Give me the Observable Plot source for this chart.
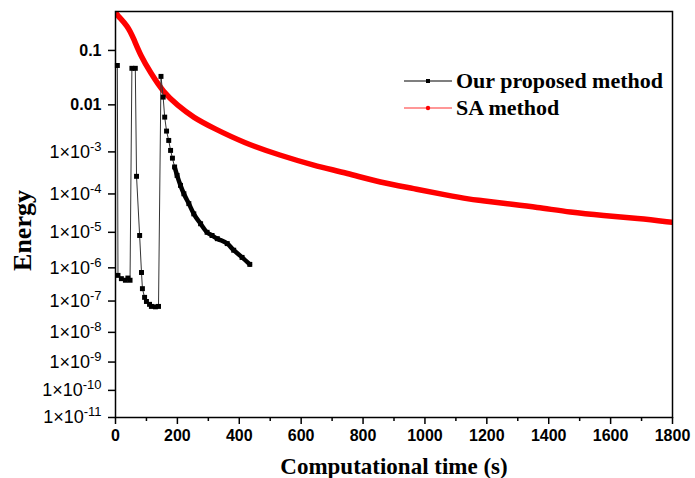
<!DOCTYPE html>
<html>
<head>
<meta charset="utf-8">
<script src="https://cdn.jsdelivr.net/npm/d3@7"></script>
<script src="https://cdn.jsdelivr.net/npm/@observablehq/plot@0.6"></script>
<style>
  html, body { margin: 0; padding: 0; background: #fff; }
  #wrap { position: relative; width: 695px; height: 478px; }
  #wrap svg { font-family: "Liberation Sans", Arial, sans-serif; }
  g[aria-label="x-axis tick label"] text { font: bold 16px "Liberation Sans", Arial, sans-serif; fill: #000; }
  g[aria-label="y-axis tick label"] text { font: 18px "Liberation Sans", Arial, sans-serif; fill: #000; }
  g[aria-label="x-axis label"] text {
    font: bold 23px "Liberation Serif", "Times New Roman", serif; fill: #000;
  }
  g[aria-label="y-axis label"] text {
    font: bold 26px "Liberation Serif", "Times New Roman", serif; fill: #000;
  }
  .legend { position: absolute; left: 403px; top: 67px; font: bold 22px "Liberation Serif", "Times New Roman", serif; color: #000; }
  .legend .item { display: flex; align-items: center; height: 27px; }
  .legend svg { margin-right: 3px; }
</style>
</head>
<body>
<div id="wrap"></div>
<script>
// ---- data ----
const seriesNames = ["Our proposed method", "SA method"];

// Our proposed method: time (s) and energy
const oursTime = [6, 8, 19, 32, 40, 47, 53, 64, 68, 78, 84, 87, 94, 100, 110, 116, 129, 139,
  147, 154, 159, 165, 172, 178, 184, 191, 199, 210, 221, 237, 253, 275, 296, 312, 329, 361, 382, 409, 434];
const oursEnergy = [0.055, 6.0e-7, 4.8e-7, 4.3e-7, 5.0e-7, 4.3e-7, 0.049, 0.049, 2.7e-4, 8.2e-6, 7.3e-7, 2.4e-7,
  1.3e-7, 9.7e-8, 7.9e-8, 6.8e-8, 6.6e-8, 6.8e-8,
  0.035, 0.0142, 0.00564, 0.00287, 0.0018, 0.00108, 7.2e-4, 4.5e-4, 2.84e-4, 1.63e-4, 1.01e-4,
  5.7e-5, 3.1e-5, 1.7e-5, 1.0e-5, 8.2e-6, 6.7e-6, 4.9e-6, 3.2e-6, 2.0e-6, 1.26e-6];

// SA method: time (s) and energy
const saTime = [0, 6, 39, 58, 81, 113, 155, 200, 252, 317, 414, 533, 640, 750, 856, 963, 1073,
  1147, 1180, 1254, 1364, 1470, 1577, 1687, 1800];
const saEnergy = [0.40, 0.36, 0.25, 0.16, 0.082, 0.041, 0.0175, 0.0098, 0.0055, 0.0033, 0.0016,
  8.3e-4, 4.9e-4, 3.2e-4, 1.9e-4, 1.37e-4, 9.2e-5, 7.3e-5, 6.9e-5, 5.8e-5, 4.6e-5, 3.4e-5,
  2.8e-5, 2.36e-5, 1.85e-5];

// ticks
const xTicks = [0, 200, 400, 600, 800, 1000, 1200, 1400, 1600, 1800];
const xMinorTicks = [100, 300, 500, 700, 900, 1100, 1300, 1500, 1700];
const yTickValues = [1e-1, 1e-2, 1e-3, 1e-4, 1e-5, 1e-6, 1e-7, 1e-8, 1e-9, 1e-10, 1e-11];
const yTickLabels = ["0.1", "0.01", "1×10^-3", "1×10^-4", "1×10^-5", "1×10^-6", "1×10^-7",
  "1×10^-8", "1×10^-9", "1×10^-10", "1×10^-11"];
const yMax = 0.41, yMin = 1e-11;

// axis transform of the original (compressed log axis)
const g = v => Math.sqrt(1.5 - Math.log10(v));

const ours = oursTime.map((t, i) => ({t, e: oursEnergy[i]}));
const sa = saTime.map((t, i) => ({t, e: saEnergy[i]}));
const yTickPos = yTickValues.map(g);
const labelFor = d => {
  const i = yTickPos.findIndex(p => Math.abs(p - d) < 1e-9);
  return i >= 0 ? yTickLabels[i] : "";
};

const plot = Plot.plot({
  width: 695, height: 478,
  marginLeft: 115, marginRight: 23, marginTop: 11, marginBottom: 61,
  x: {domain: [0, 1800]},
  y: {domain: [g(yMin), g(yMax)]},
  style: {background: "white", overflow: "visible"},
  marks: [
    Plot.line(sa, {x: "t", y: d => g(d.e), stroke: "#ff0000", strokeWidth: 5.5, curve: "basis", clip: true}),
    Plot.line(ours, {x: "t", y: d => g(d.e), stroke: "#333", strokeWidth: 1}),
    Plot.line(ours.filter(d => d.t >= 190), {x: "t", y: d => g(d.e), stroke: "#000", strokeWidth: 4.5, curve: "monotone-x"}),
    Plot.dot(ours, {x: "t", y: d => g(d.e), symbol: "square", r: 2.8, fill: "#000"}),
    Plot.frame({stroke: "#000", strokeWidth: 1.5}),
    Plot.axisX({ticks: xTicks, tickSize: 7, tickPadding: 5, strokeWidth: 1.5, tickFormat: d => String(d),
      label: "Computational time (s)", labelAnchor: "center", labelOffset: 56, labelArrow: "none"}),
    Plot.axisX({ticks: xMinorTicks, tickSize: 4, strokeWidth: 1.5, fill: "none"}),
    Plot.axisY({ticks: yTickPos, tickSize: 7, tickPadding: 7, strokeWidth: 1.5, tickFormat: labelFor,
      label: "Energy", labelAnchor: "center", labelOffset: 103, labelArrow: "none"})
  ]
});
document.getElementById("wrap").appendChild(plot);

// move the y-axis title a little lower, as in the original
const ylab = plot.querySelector('g[aria-label="y-axis label"]');
if (ylab) ylab.setAttribute("transform", ((ylab.getAttribute("transform") || "") + " translate(0,16)").trim());

// superscripts and bold for the y tick labels
plot.querySelectorAll('g[aria-label="y-axis tick label"] text').forEach(t => {
  const s = t.textContent;
  if (s.includes("^")) {
    const [base, exp] = s.split("^");
    t.textContent = "";
    const a = document.createElementNS("http://www.w3.org/2000/svg", "tspan");
    a.textContent = base;
    const b = document.createElementNS("http://www.w3.org/2000/svg", "tspan");
    b.textContent = exp;
    b.setAttribute("font-size", "13px");
    b.setAttribute("dy", "-7");
    t.appendChild(a); t.appendChild(b);
  } else {
    t.style.fontWeight = "bold";
    t.style.fontSize = "16px";
  }
});

// legend
const legend = document.createElement("div");
legend.className = "legend";
legend.innerHTML = `
  <div class="item"><svg width="50" height="10"><line x1="1" y1="5" x2="49" y2="5" stroke="#000" stroke-width="1.2"/><rect x="23" y="3" width="4" height="4" fill="#000"/></svg><span>${seriesNames[0]}</span></div>
  <div class="item"><svg width="50" height="10"><line x1="1" y1="5" x2="49" y2="5" stroke="#ff3030" stroke-width="1.2"/><circle cx="25" cy="5" r="2.2" fill="#ff0000"/></svg><span>${seriesNames[1]}</span></div>`;
document.getElementById("wrap").appendChild(legend);
</script>
</body>
</html>
